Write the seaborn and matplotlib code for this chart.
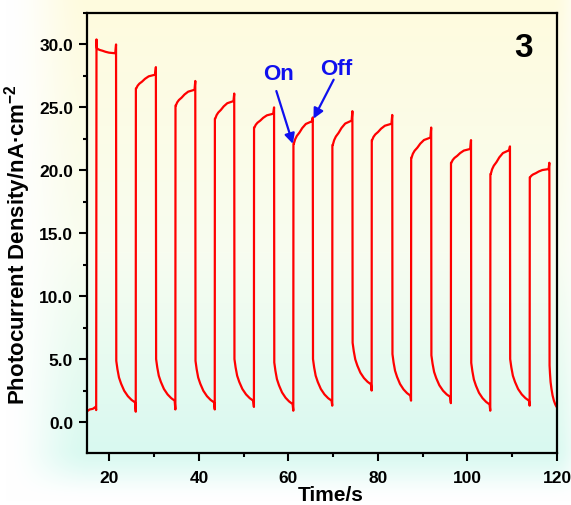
import numpy as np
import pandas as pd
import matplotlib
matplotlib.use("Agg")
import matplotlib.pyplot as plt
import seaborn as sns
from matplotlib.ticker import MultipleLocator, FormatStrFormatter

# ---------------- data ----------------
rise_t = [17.1, 25.9, 34.75, 43.55, 52.3, 61.1, 69.8, 78.6, 87.4, 96.3, 105.1, 113.9]
fall_t = [21.5, 30.4, 39.2, 47.9, 56.8, 65.45, 74.3, 83.2, 91.9, 100.8, 109.5, 118.3]
on_first = [30.4, 26.5, 25.15, 24.1, 23.4, 22.1, 22.0, 22.4, 21.0, 20.6, 19.7, 19.45]
on_settle = [29.7, 26.5, 25.15, 24.1, 23.4, 22.1, 22.0, 22.4, 21.0, 20.6, 19.7, 19.45]
on_end = [29.3, 27.6, 26.4, 25.5, 24.5, 23.9, 23.95, 23.7, 22.6, 21.7, 21.6, 20.1]
on_peak = [30.0, 28.2, 27.1, 26.1, 25.0, 24.2, 24.7, 24.4, 23.4, 22.4, 21.9, 20.6]
off_end = [1.56, 1.7, 1.56, 1.7, 1.43, 1.7, 3.0, 2.1, 2.0, 1.4, 1.7, 1.2]
off_min = [0.82, 1.0, 1.0, 1.2, 0.9, 1.3, 2.5, 1.7, 1.5, 0.9, 1.3]
dark_t = [15.0, 15.6, 16.3, 16.9, 17.05]
dark_y = [0.85, 1.0, 1.05, 1.2, 0.95]
t_stop = 120.0
# shape of plateau / decay read from one cycle (fraction of phase duration)
plateau_pos = [0.0, 0.07, 0.16, 0.3, 0.45, 0.64, 0.97]
plateau_frac = [0.0, 0.2, 0.35, 0.5, 0.7, 0.88, 1.0]
decay_pos = [0.0, 0.06, 0.14, 0.25, 0.41, 0.6, 0.79, 0.97]
decay_frac = [1.0, 0.8, 0.6, 0.45, 0.28, 0.15, 0.06, 0.0]
decay_height = 3.3

xticks = [20, 40, 60, 80, 100, 120]
yticks = [0, 5, 10, 15, 20, 25, 30]

# annotation positions (data units)
on_text = (57.7, 27.7)
on_tail = (57.3, 26.3)
on_head = (61.0, 22.1)
off_text = (70.7, 28.06)
off_tail = (70.1, 27.2)
off_head = (65.6, 24.1)

# ---------------- build the trace ----------------
T = list(dark_t)
Y = list(dark_y)
n = len(rise_t)
for i in range(n):
    r, f = rise_t[i], fall_t[i]
    T.append(r + 0.02); Y.append(on_first[i])
    D = f - r
    for p, fr in zip(plateau_pos, plateau_frac):
        T.append(r + 0.1 + p * (D - 0.15))
        Y.append(on_settle[i] + fr * (on_end[i] - on_settle[i]))
    T.append(f - 0.01); Y.append(on_peak[i])
    nxt = rise_t[i + 1] if i + 1 < n else t_stop
    D2 = nxt - f
    hi = off_end[i] + decay_height
    for p, fr in zip(decay_pos, decay_frac):
        T.append(f + 0.04 + p * (D2 - 0.08))
        Y.append(off_end[i] + fr * (hi - off_end[i]))
    if i + 1 < n:
        T.append(nxt - 0.01); Y.append(off_min[i])

df = pd.DataFrame({"t": T, "y": Y})

# ---------------- figure ----------------
sns.set_style("white")
plt.rcParams["font.family"] = ["Liberation Sans", "DejaVu Sans"]
plt.rcParams["mathtext.fontset"] = "custom"
plt.rcParams["mathtext.bf"] = "Liberation Sans:bold"
plt.rcParams["mathtext.rm"] = "Liberation Sans:bold"
plt.rcParams["mathtext.default"] = "bf"
plt.rcParams["text.color"] = "black"
plt.rcParams["axes.labelcolor"] = "black"
plt.rcParams["xtick.color"] = "black"
plt.rcParams["ytick.color"] = "black"

W, H = 571, 506
fig = plt.figure(figsize=(W / 100, H / 100), dpi=100)
fig.patch.set_facecolor("white")

# background glow
yy, xx = np.mgrid[0:H, 0:W].astype(float)
v = yy / H
top = np.array([255, 251, 222]) / 255
mid = np.array([248, 253, 240]) / 255
bot = np.array([208, 248, 240]) / 255
w1 = np.clip(v / 0.5, 0, 1)[..., None]
w2 = np.clip((v - 0.5) / 0.5, 0, 1)[..., None]
col = np.where(v[..., None] < 0.5, top * (1 - w1) + mid * w1, mid * (1 - w2) + bot * w2)
def sm(z):
    z = np.clip(z, 0, 1)
    return z * z * (3 - 2 * z)
a = sm((xx - 5) / 85) * sm((H - yy - 4) / 55) * sm((W + 20 - xx) / 40)
img = col * a[..., None] + (1 - a[..., None])
bg = fig.add_axes([0, 0, 1, 1], zorder=0)
bg.imshow(img, extent=[0, 1, 0, 1], aspect="auto", interpolation="bilinear")
bg.axis("off")

ax = fig.add_axes([87 / W, 1 - 454 / H, (557 - 87) / W, (454 - 14) / H], zorder=1)
ax.set_facecolor("none")
sns.lineplot(data=df, x="t", y="y", ax=ax, color="#ff0000", lw=1.6,
             estimator=None, sort=False)

ax.set_xlim(15, 120)
ax.set_ylim(-2.46, 32.5)
ax.set_xticks(xticks)
ax.set_yticks(yticks)
ax.xaxis.set_minor_locator(MultipleLocator(10))
ax.yaxis.set_minor_locator(MultipleLocator(2.5))
ax.yaxis.set_major_formatter(FormatStrFormatter("%.1f"))
ax.tick_params(axis="both", which="major", direction="out", length=6, width=1.5,
               labelsize=12.5, pad=4, bottom=True, left=True, top=False, right=False,
               colors="black")
ax.tick_params(axis="x", which="major", pad=6)
ax.tick_params(axis="both", which="minor", direction="out", length=3, width=1.5,
               bottom=True, left=True, top=False, right=False, colors="black")
for lab in ax.get_xticklabels() + ax.get_yticklabels():
    lab.set_fontweight("bold")
for s in ax.spines.values():
    s.set_visible(True)
    s.set_linewidth(1.6)
    s.set_color("black")

ax.set_xlabel("Time/s", fontsize=15, fontweight="bold", color="black")
ax.xaxis.label.set_va("bottom")
ax.xaxis.set_label_coords((331 - 87) / 470, (454 - 505) / 440)
ax.set_ylabel("Photocurrent Density/nA·cm$^{-2}$", fontsize=16, fontweight="bold", color="black")
ax.yaxis.set_label_coords((33 - 87) / 470, (454 - 245) / 440)

ax.text(0.916, 0.905, "3", transform=fig.transFigure, fontsize=24, fontweight="bold",
        ha="center", va="center", color="black")

blue = "#1010ee"
ax.text(*on_text, "On", fontsize=16, fontweight="bold", color=blue, ha="center", va="center")
ax.text(*off_text, "Off", fontsize=16, fontweight="bold", color=blue, ha="center", va="center")
for tail, head in [(on_tail, on_head), (off_tail, off_head)]:
    ax.annotate("", xy=head, xytext=tail,
                arrowprops=dict(arrowstyle="-|>", color=blue, lw=1.6, mutation_scale=15,
                                shrinkA=0, shrinkB=0))

fig.savefig("out.png", dpi=100)
